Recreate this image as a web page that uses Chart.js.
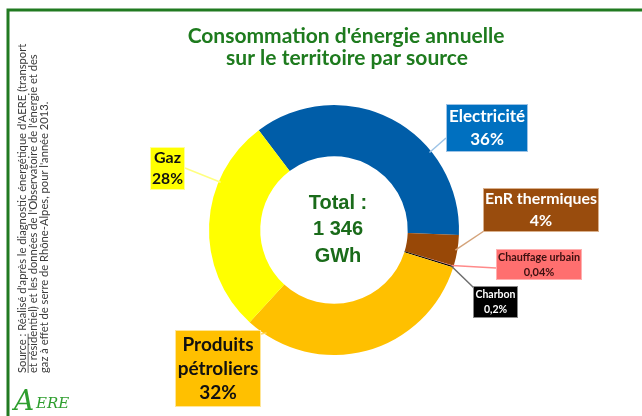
<!DOCTYPE html>
<html>
<head>
  <meta charset="utf-8">
  <title>Consommation d'énergie annuelle</title>
  <script src="https://cdn.jsdelivr.net/npm/chart.js"></script>
  <style>
    body { margin: 0; background: #fff; }
    canvas { display: block; }
  </style>
</head>
<body>
  <canvas id="graphEnergie" width="642" height="416"></canvas>

  <script>
    // données
    const categories = ['Electricité', 'EnR thermiques', 'Chauffage urbain', 'Charbon', 'Produits pétroliers', 'Gaz'];
    const parts = [36, 4, 0.04, 0.2, 32, 28];
    const partLabels = ['36%', '4%', '0,04%', '0,2%', '32%', '28%'];
    const couleurs = ['#005da8', '#984807', '#ff6b6b', '#000000', '#ffc000', '#ffff00'];
    const titre = ["Consommation d'énergie annuelle", 'sur le territoire par source'];
    const totalLignes = ['Total :', '1 346', 'GWh'];
    const sourceLignes = [
      "Réalisé d'après le diagnostic énergétique d'AERE (transport",
      "et résidentiel) et les données de l'Observatoire de l'énergie et des",
      "gaz à effet de serre de Rhône-Alpes, pour l'année 2013."
    ];

    const VERT = '#1e7b1e';

    // étiquettes (boîtes) : position, style, point d'accroche sur l'anneau
    const etiquettes = [
      { box: [446, 104, 82, 48], size: 17, fg: '#ffffff', bg: '#0070c0', bord: '#9dc3e6', trait: '#9dc3e6', attache: [446, 138], frac: 0.68, pas: 23 },
      { box: [483, 188, 116, 44], size: 16, fg: '#ffffff', bg: '#994c0d', bord: '#d9b08c', trait: '#d4a37a', attache: [484, 231], frac: 0.5, pas: 22 },
      { box: [496, 249, 86, 31], size: 11, fg: '#3b1010', bg: '#ff6f6f', bord: '#ffb0b0', trait: '#ff8a8a', attache: [496, 268], frac: 0.5, pas: 15 },
      { box: [473, 286, 45, 32], size: 10.5, fg: '#ffffff', bg: '#000000', bord: '#888888', trait: '#6e6e6e', attache: [474, 288], frac: 0.5, pas: 15 },
      { box: [175, 330, 86, 77], size: 19, fg: '#111111', bg: '#ffc000', bord: '#ffe699', trait: '#ffd966', attache: [261, 334], frac: 0.92, pas: 24, coupe: true },
      { box: [150, 147, 35, 43], size: 16, fg: '#111111', bg: '#ffff00', bord: '#ffff99', trait: '#ffff80', attache: [185, 168], frac: 0.7, pas: 21 }
    ];

    function texteAjuste(ctx, txt, x, y, maxW) {
      const w = ctx.measureText(txt).width;
      const s = maxW && w > maxW ? maxW / w : 1;
      ctx.save();
      ctx.translate(x, y);
      ctx.scale(s, 1);
      ctx.fillText(txt, 0, 0);
      ctx.restore();
    }

    const decor = {
      id: 'decor',
      beforeDraw(chart) {
        const ctx = chart.ctx;
        ctx.save();
        ctx.fillStyle = '#fff';
        ctx.fillRect(0, 0, chart.width, chart.height);
        // cadre vert
        ctx.strokeStyle = '#217a21';
        ctx.lineWidth = 3;
        ctx.beginPath();
        ctx.moveTo(8, 416);
        ctx.lineTo(8, 10);
        ctx.lineTo(642, 10);
        ctx.stroke();

        // titre
        ctx.fillStyle = VERT;
        ctx.font = 'bold 21px Lato';
        ctx.textAlign = 'center';
        ctx.textBaseline = 'middle';
        texteAjuste(ctx, titre[0], 346, 36, 328);
        texteAjuste(ctx, titre[1], 347, 58, 252);

        // source, texte vertical
        ctx.fillStyle = '#3a3a3a';
        ctx.font = '11.2px Lato';
        ctx.textAlign = 'left';
        const colonnes = [22.5, 33.5, 44.5];
        sourceLignes.forEach((l, i) => {
          ctx.save();
          ctx.translate(colonnes[i], 373);
          ctx.rotate(-Math.PI / 2);
          let x0 = 0;
          if (i === 0) {
            const s = 'Source : ';
            ctx.fillText(s, 0, 0);
            const ws = ctx.measureText('Source :').width;
            ctx.fillRect(0, 5.2, ws, 0.8);
            x0 = ctx.measureText(s).width;
          }
          ctx.fillText(l, x0, 0);
          ctx.restore();
        });

        // logo AERE
        ctx.fillStyle = '#2e9e2e';
        ctx.textBaseline = 'alphabetic';
        ctx.font = 'italic 28px "DejaVu Serif"';
        ctx.fillText('A', 14, 410);
        ctx.font = 'italic 15px "DejaVu Serif"';
        ctx.fillText('ERE', 36, 408);
        ctx.restore();
      },
      afterDraw(chart) {
        const ctx = chart.ctx;
        const arcs = chart.getDatasetMeta(0).data;
        ctx.save();
        ctx.textAlign = 'center';
        ctx.textBaseline = 'middle';

        // total au centre
        const c = arcs[0];
        ctx.fillStyle = '#1a6b1a';
        ctx.font = 'bold 20px "Liberation Sans"';
        totalLignes.forEach((t, i) => ctx.fillText(t, c.x + 4, c.y - 27 + i * 26.5));

        etiquettes.forEach((e, i) => {
          const a = arcs[i];
          const ang = a.startAngle + (a.endAngle - a.startAngle) * e.frac;
          const r = a.outerRadius - 2;
          // trait de rappel
          ctx.strokeStyle = e.trait;
          ctx.lineWidth = 1.5;
          ctx.beginPath();
          ctx.moveTo(a.x + Math.cos(ang) * r, a.y + Math.sin(ang) * r);
          ctx.lineTo(e.attache[0], e.attache[1]);
          ctx.stroke();

          // boîte
          const [bx, by, bw, bh] = e.box;
          ctx.fillStyle = e.bg;
          ctx.fillRect(bx, by, bw, bh);
          ctx.strokeStyle = e.bord;
          ctx.lineWidth = 1;
          ctx.strokeRect(bx + 0.5, by + 0.5, bw - 1, bh - 1);

          const lignes = (e.coupe ? categories[i].split(' ') : [categories[i]]).concat(partLabels[i]);
          ctx.fillStyle = e.fg;
          ctx.font = 'bold ' + e.size + 'px Lato';
          const cy = by + bh / 2 - (lignes.length - 1) * e.pas / 2;
          lignes.forEach((t, k) => texteAjuste(ctx, t, bx + bw / 2, cy + k * e.pas, bw - 4));
        });
        ctx.restore();
      }
    };

    new Chart(document.getElementById('graphEnergie'), {
      type: 'doughnut',
      data: {
        labels: categories,
        datasets: [{
          data: parts,
          backgroundColor: couleurs,
          borderWidth: 0
        }]
      },
      options: {
        responsive: false,
        animation: false,
        cutout: '59%',
        rotation: -37,
        layout: { padding: { left: 209, right: 183, top: 105, bottom: 61 } },
        plugins: {
          legend: { display: false },
          title: { display: false },
          tooltip: { enabled: false }
        },
        events: []
      },
      plugins: [decor]
    });
  </script>
</body>
</html>
